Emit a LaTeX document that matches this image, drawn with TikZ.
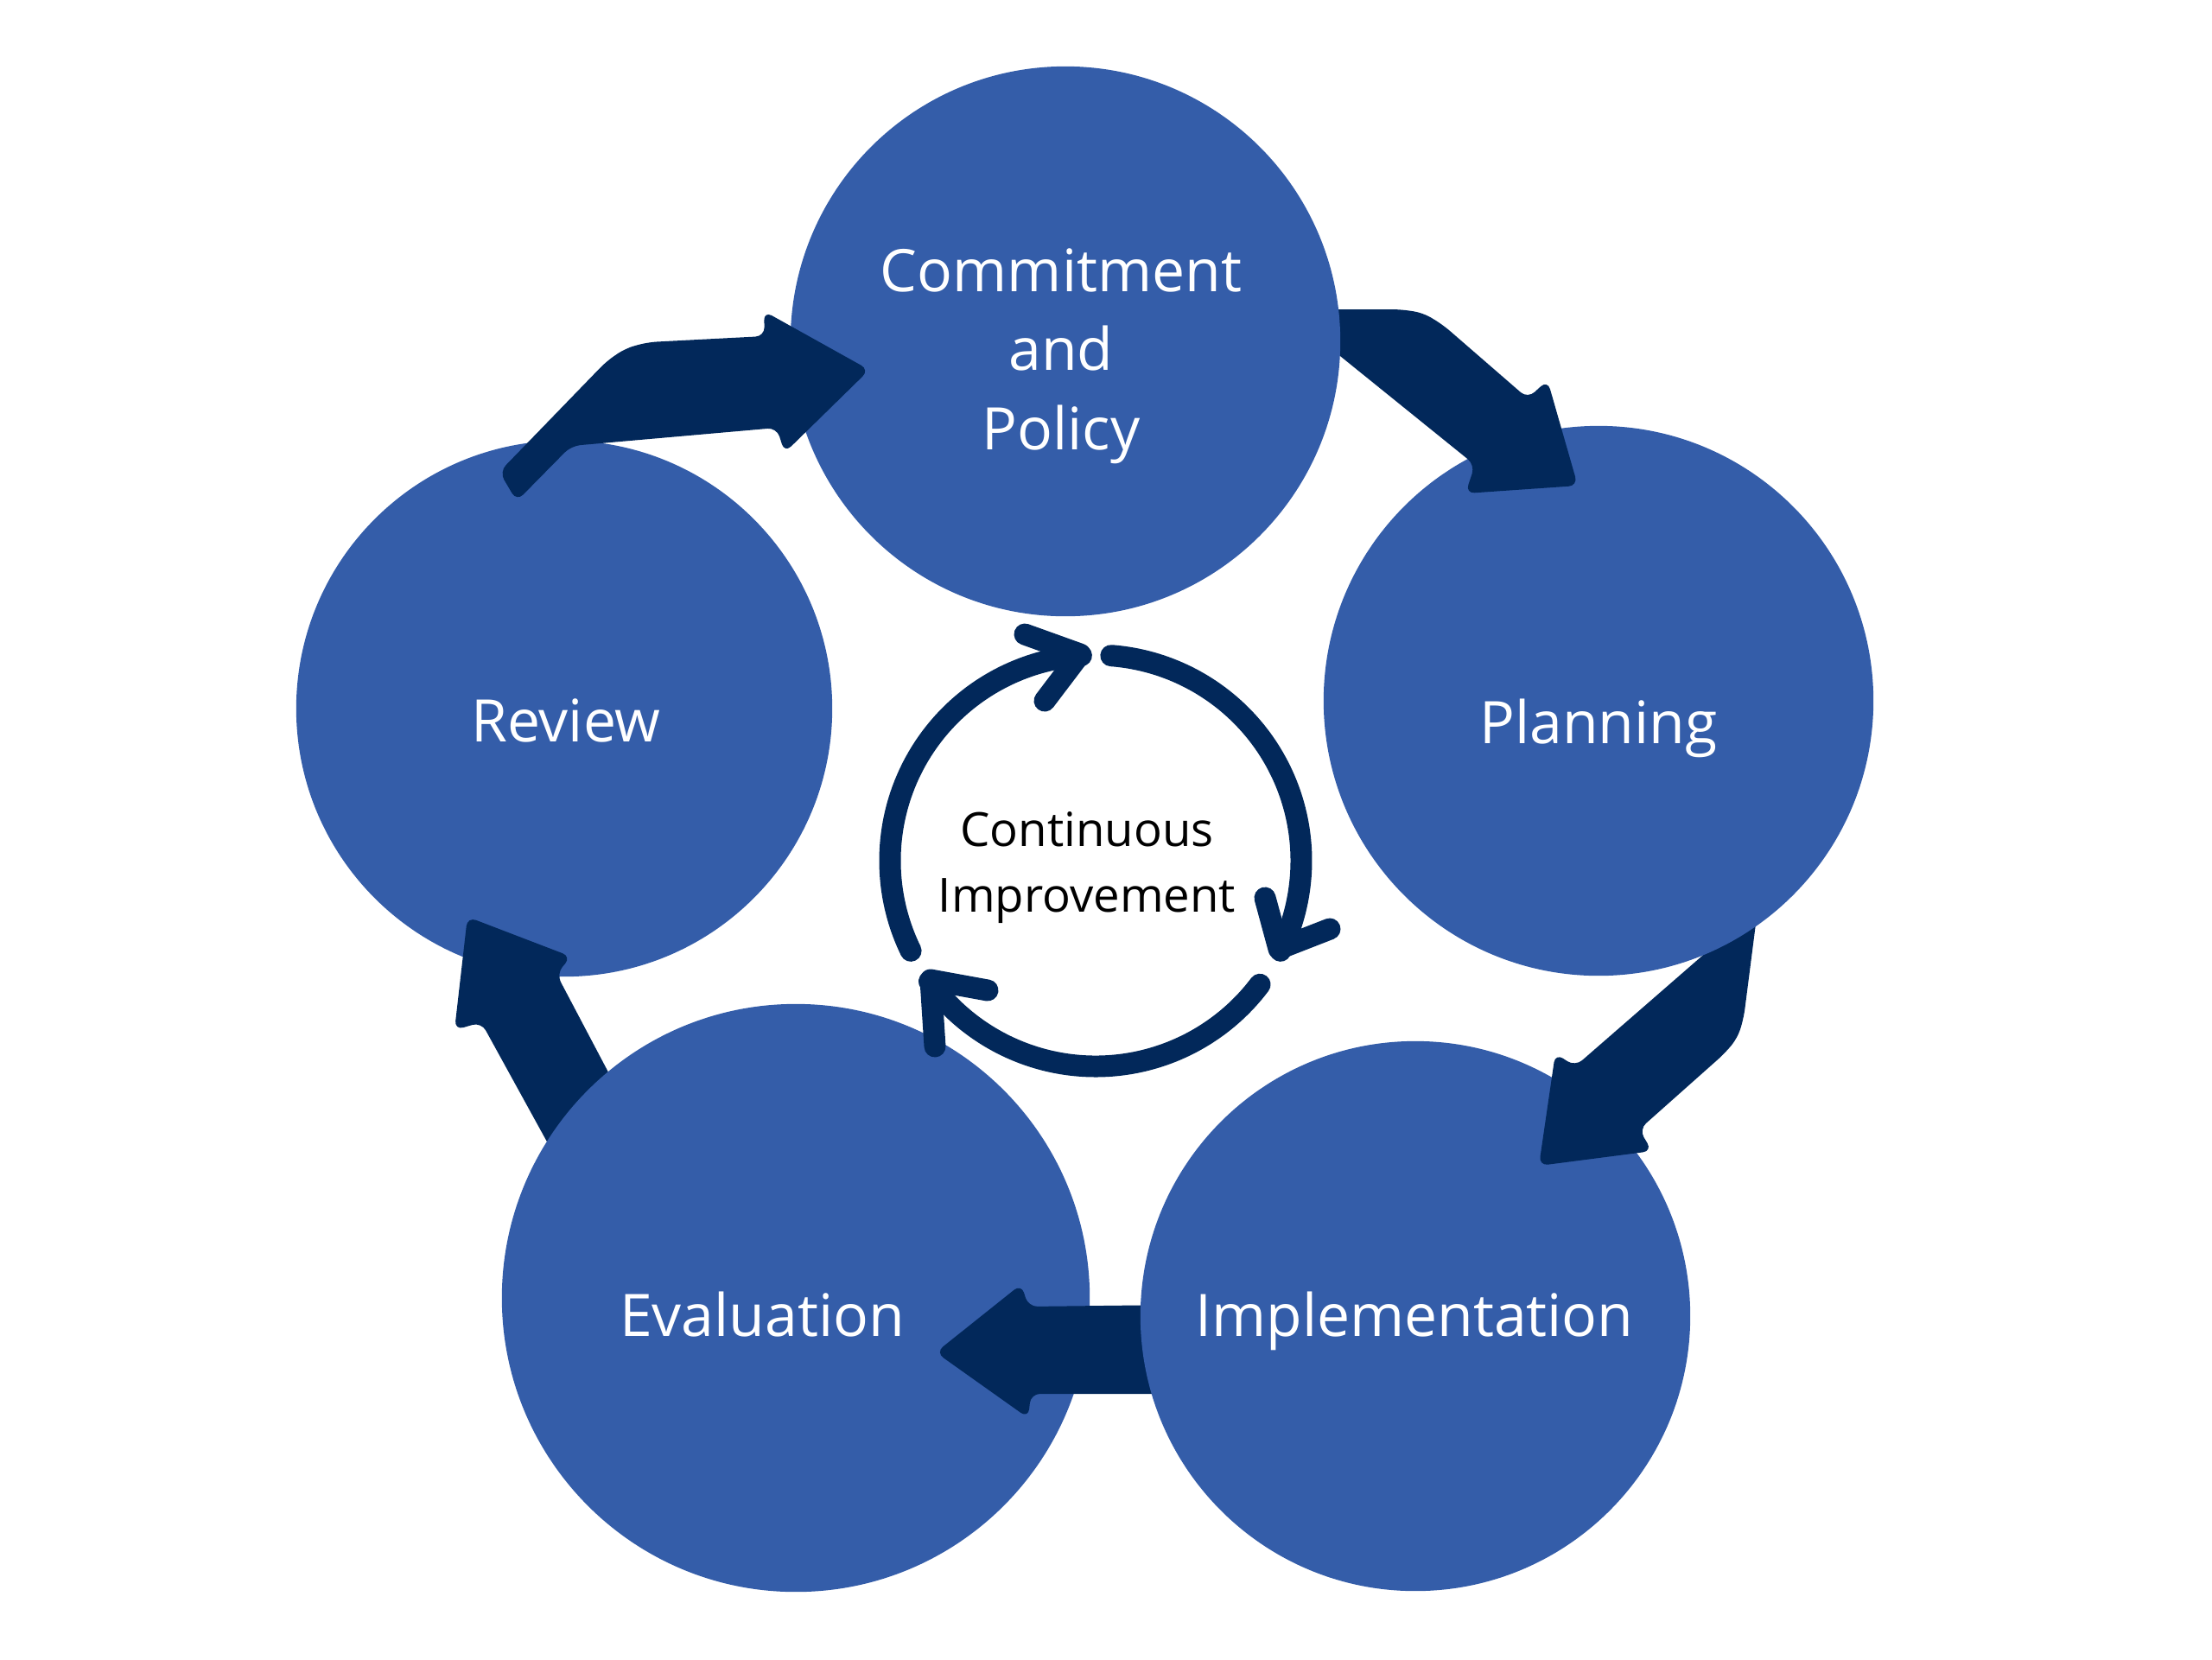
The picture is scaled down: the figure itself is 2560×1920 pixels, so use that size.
\documentclass[tikz,border=0pt]{standalone}
\usepackage{fontspec}
\setmainfont{Open Sans}
\definecolor{stageblue}{HTML}{345DA9}
\definecolor{arrownavy}{HTML}{02285A}
\begin{document}
\begin{tikzpicture}[x=0.01cm,y=-0.01cm,
  stage/.style={circle, fill=stageblue, inner sep=0pt},
  stagetext/.style={text=white, anchor=base, align=center, font=\fontsize{19.3pt}{26pt}\selectfont},
  bigarrow/.style={fill=arrownavy, rounded corners=3pt},
  cyclearrow/.style={draw=arrownavy, line width=7.1pt, line cap=round, line join=round}]
\useasboundingbox (0,0) rectangle (2560,1920);
\node[stage, minimum size=6.2cm] (review) at (653,820) {};
\fill[bigarrow] (645,1343) -- (557,1183) -- (526,1192) -- (541,1061) -- (661,1107) -- (644,1127) -- (730,1290) -- cycle;
\node[stage, minimum size=6.8cm] (eval) at (921,1502) {};
\fill[bigarrow] (1360,1510) -- (1190,1512) -- (1182,1486) -- (1083,1565) -- (1190,1641) -- (1193,1613) -- (1360,1613) -- cycle;
\node[stage, minimum size=6.36cm] (impl) at (1638,1523) {};
\fill[bigarrow] (2037,1030) -- (2018,1178) -- (2011,1201) -- (1996,1219) -- (1897,1307) -- (1912,1332) -- (1781,1349) -- (1800,1219) -- (1823,1234) -- (2000,1080) -- cycle;
\node[stage, minimum size=6.36cm] (plan) at (1850,811) {};
\fill[bigarrow] (1525,391) -- (1525,358) -- (1621,358) -- (1647,362) -- (1670,376) -- (1768,461) -- (1791,440) -- (1826,562) -- (1696,571) -- (1707,538) -- cycle;
\node[stage, minimum size=6.36cm] (commit) at (1233,395) {};
\fill[bigarrow] (598,580) -- (578,546) -- (702,418) -- (724,403) -- (750,396) -- (885,389) -- (884,360) -- (1006,428) -- (908,524) -- (899,495) -- (661,516) -- cycle;
\node[stagetext] (committxt) at (1228,520) {Commitment\\and\\Policy};
\node[stagetext] (plantxt) at (1850,860) {Planning};
\node[stagetext] (impltxt) at (1637,1546) {Implementation};
\node[stagetext] (evaltxt) at (882,1546) {Evaluation};
\node[stagetext] (reviewtxt) at (655,858) {Review};
\coordinate (cyc) at (1268,996);
\node[anchor=base, align=center, font=\fontsize{15.5pt}{21.6pt}\selectfont] (citxt) at (1258,1055) {Continuous\\Improvement};
\draw[cyclearrow] (cyc) ++(-206:238) arc[start angle=-206, end angle=-94, radius=238];
\draw[cyclearrow] (1186,734) -- (1250,757) -- (1209,811);
\draw[cyclearrow] (cyc) ++(-85.7:238) arc[start angle=-85.7, end angle=26, radius=238];
\draw[cyclearrow] (1464,1039) -- (1480,1098) -- (1539,1075);
\draw[cyclearrow] (cyc) ++(37:238) arc[start angle=37, end angle=144, radius=238];
\draw[cyclearrow] (1143,1146) -- (1077,1134) -- (1082,1211);
\end{tikzpicture}
\end{document}
